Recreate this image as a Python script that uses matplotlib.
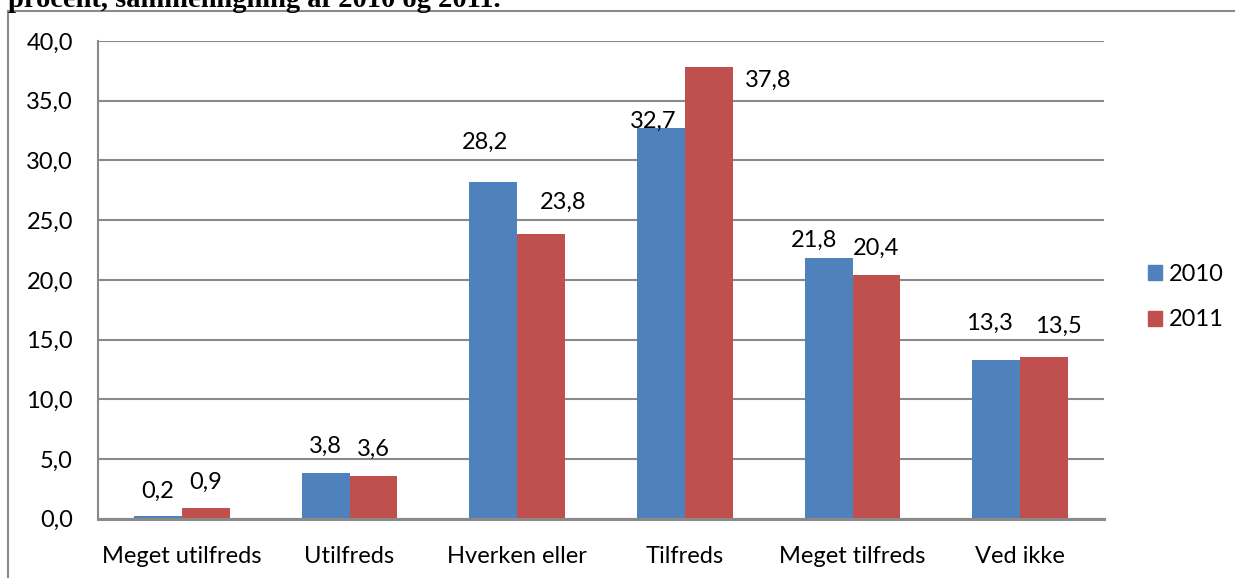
import matplotlib.pyplot as plt
from matplotlib.lines import Line2D
from matplotlib.patches import Patch

# ---------- DATA ----------
categories = ["Meget utilfreds", "Utilfreds", "Hverken eller", "Tilfreds",
              "Meget tilfreds", "Ved ikke"]
values_2010 = [0.2, 3.8, 28.2, 32.7, 21.8, 13.3]
values_2011 = [0.9, 3.6, 23.8, 37.8, 20.4, 13.5]
yticks = [0, 5, 10, 15, 20, 25, 30, 35, 40]
title = "procent, sammenligning af 2010 og 2011."

# label offsets in pixels (dx, dy) from bar top, as placed in the original
offs_2010 = [(0, 25), (0, 27), (-8, 40), (-8, 7), (-14, 18), (-7, 37)]
offs_2011 = [(0, 26), (0, 26), (22, 32), (59, -13), (0, 27), (14, 31)]

BLUE = "#4F81BD"
RED = "#C0504D"
GRID = "#8A8A8A"
FONT = "Lato"

W, H = 1235, 578
fig = plt.figure(figsize=(W / 100, H / 100), dpi=100)
ax = fig.add_axes([98 / W, (H - 518.7) / H, (1104 - 98) / W, (518.7 - 41) / H])

x = list(range(len(categories)))
bw = 0.286
b1 = ax.bar([i - bw / 2 for i in x], values_2010, bw, color=BLUE, zorder=3)
b2 = ax.bar([i + bw / 2 for i in x], values_2011, bw, color=RED, zorder=3)

# ---------- DATA LABELS ----------
for bars, vals, offs in [(b1, values_2010, offs_2010), (b2, values_2011, offs_2011)]:
    for rect, v, (dx, dy) in zip(bars, vals, offs):
        ax.annotate(f"{v:.1f}".replace(".", ","),
                    (rect.get_x() + rect.get_width() / 2, rect.get_height()),
                    xytext=(dx, dy), textcoords="offset pixels",
                    ha="center", va="center", fontsize=17, family=FONT,
                    zorder=5)

# ---------- AXES ----------
ax.set_xlim(-0.5, len(categories) - 0.5)
ax.set_ylim(0, 40)
ax.set_yticks(yticks)
ax.set_yticklabels([f"{t:.1f}".replace(".", ",") for t in yticks],
                   fontsize=17, family=FONT)
ax.set_xticks(x)
ax.set_xticklabels(categories, fontsize=17, family=FONT)
ax.tick_params(axis="both", length=0)
ax.tick_params(axis="y", pad=18)
ax.tick_params(axis="x", pad=20)
ax.grid(axis="y", color=GRID, linewidth=1.5, zorder=0)
for s in ["top", "right"]:
    ax.spines[s].set_visible(False)
ax.spines["left"].set_color(GRID)
ax.spines["left"].set_linewidth(1.5)
ax.spines["bottom"].set_color(GRID)
ax.spines["bottom"].set_linewidth(2.2)
ax.spines["bottom"].set_zorder(4)

# ---------- LEGEND ----------
handles = [Patch(color=BLUE, label="2010"), Patch(color=RED, label="2011")]
ax.legend(handles=handles, loc="center left",
          bbox_to_anchor=(1136 / W, (H - 297) / H), bbox_transform=fig.transFigure,
          frameon=False, prop={"family": FONT, "size": 17},
          handlelength=0.6, handleheight=0.6, handletextpad=0.3,
          labelspacing=1.05, borderpad=0)

# ---------- OUTER FRAME + CUT TITLE ----------
fig.add_artist(Line2D([8 / W, 8 / W], [0, (H - 10.5) / H],
                      transform=fig.transFigure, color=GRID, linewidth=1.5))
fig.add_artist(Line2D([8 / W, 1], [(H - 10.5) / H, (H - 10.5) / H],
                      transform=fig.transFigure, color=GRID, linewidth=1.5))
fig.text(8 / W, (H - 7) / H, title, fontsize=20.5, fontweight="bold",
         family="Liberation Serif", ha="left", va="baseline")

fig.savefig("out.png", dpi=100)
